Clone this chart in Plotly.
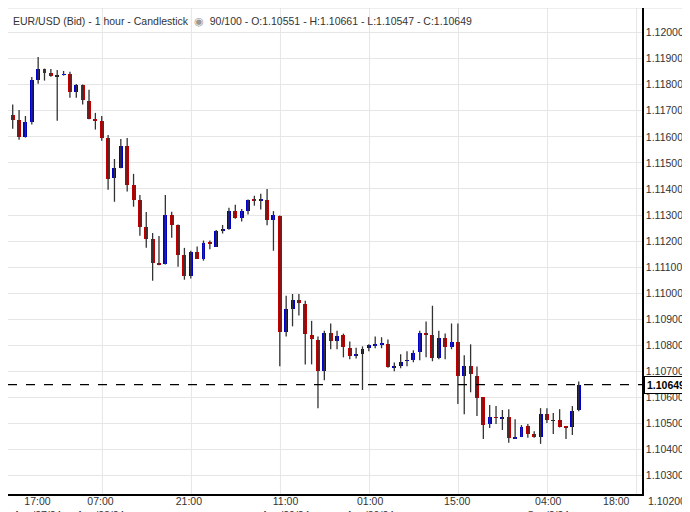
import plotly.graph_objects as go

opens = [1.11684,1.11665,1.11599,1.11657,1.11818,1.11860,1.11845,1.11832,1.11839,1.11841,
         1.11773,1.11799,1.11738,1.11670,1.11661,1.11597,1.11443,1.11482,1.11565,1.11415,
         1.11358,1.11254,1.11208,1.11115,1.11112,1.11300,1.11262,1.11147,1.11068,1.11158,
         1.11133,1.11193,1.11179,1.11240,1.11248,1.11316,1.11290,1.11317,1.11358,1.11355,
         1.11358,1.11282,1.11296,1.10850,1.10940,1.10975,1.10959,1.10841,1.10822,1.10701,
         1.10848,1.10815,1.10841,1.10791,1.10758,1.10766,1.10789,1.10800,1.10805,1.10806,
         1.10716,1.10720,1.10740,1.10743,1.10773,1.10848,1.10841,1.10750,1.10829,1.10792,
         1.10814,1.10682,1.10719,1.10684,1.10600,1.10498,1.10525,1.10521,1.10527,1.10441,
         1.10448,1.10489,1.10459,1.10448,1.10535,1.10511,1.10512,1.10487,1.10487,1.10551]
highs = [1.11724,1.11703,1.11680,1.11830,1.11906,1.11862,1.11860,1.11857,1.11853,1.11850,
         1.11803,1.11801,1.11781,1.11692,1.11680,1.11607,1.11515,1.11592,1.11596,1.11458,
         1.11377,1.11312,1.11231,1.11220,1.11377,1.11313,1.11264,1.11174,1.11163,1.11179,
         1.11202,1.11202,1.11243,1.11262,1.11328,1.11340,1.11323,1.11360,1.11374,1.11382,
         1.11400,1.11315,1.11298,1.10990,1.10997,1.10997,1.10971,1.10894,1.10834,1.10856,
         1.10884,1.10856,1.10845,1.10815,1.10791,1.10796,1.10804,1.10834,1.10831,1.10822,
         1.10734,1.10766,1.10777,1.10781,1.10856,1.10892,1.10952,1.10856,1.10845,1.10884,
         1.10884,1.10762,1.10804,1.10719,1.10600,1.10571,1.10567,1.10552,1.10555,1.10516,
         1.10494,1.10498,1.10470,1.10559,1.10559,1.10540,1.10555,1.10487,1.10567,1.10661]
lows = [1.11631,1.11589,1.11597,1.11647,1.11804,1.11816,1.11831,1.11662,1.11835,1.11750,
        1.11750,1.11724,1.11668,1.11628,1.11585,1.11397,1.11351,1.11480,1.11390,1.11332,
        1.11221,1.11175,1.11048,1.11107,1.11110,1.11213,1.11102,1.11052,1.11057,1.11131,
        1.11125,1.11169,1.11177,1.11229,1.11244,1.11286,1.11275,1.11302,1.11336,1.11321,
        1.11261,1.11163,1.10720,1.10834,1.10873,1.10915,1.10727,1.10727,1.10559,1.10666,
        1.10785,1.10785,1.10754,1.10747,1.10750,1.10629,1.10777,1.10789,1.10789,1.10714,
        1.10701,1.10712,1.10720,1.10735,1.10743,1.10754,1.10739,1.10747,1.10747,1.10785,
        1.10575,1.10536,1.10620,1.10529,1.10441,1.10483,1.10498,1.10475,1.10426,1.10441,
        1.10448,1.10445,1.10445,1.10422,1.10502,1.10460,1.10485,1.10441,1.10456,1.10547]
closes = [1.11666,1.11599,1.11657,1.11818,1.11860,1.11846,1.11835,1.11832,1.11841,1.11773,
          1.11799,1.11743,1.11670,1.11662,1.11597,1.11440,1.11481,1.11565,1.11417,1.11359,
          1.11256,1.11210,1.11117,1.11112,1.11300,1.11263,1.11148,1.11068,1.11160,1.11133,
          1.11193,1.11190,1.11239,1.11247,1.11316,1.11289,1.11316,1.11358,1.11355,1.11358,
          1.11282,1.11299,1.10850,1.10940,1.10975,1.10961,1.10842,1.10823,1.10701,1.10848,
          1.10815,1.10837,1.10792,1.10758,1.10768,1.10787,1.10803,1.10803,1.10808,1.10716,
          1.10719,1.10738,1.10743,1.10772,1.10848,1.10842,1.10750,1.10829,1.10792,1.10814,
          1.10682,1.10719,1.10689,1.10597,1.10494,1.10524,1.10522,1.10527,1.10445,1.10447,
          1.10485,1.10460,1.10448,1.10535,1.10513,1.10511,1.10487,1.10484,1.10550,1.10649]

tick_pos = [3.9, 13.8, 27.7, 42.9, 56.2, 69.9, 84.2, 94.9]
tick_text = ["17:00<br>Aug/27/24", "07:00<br>Aug/28/24", "21:00", "11:00<br>Aug/29/24",
             "01:00<br>Aug/30/24", "15:00", "04:00<br>Sep/2/24", "18:00"]
grid_pos = [14.1, 28.1, 42.1, 56.1, 70.1, 84.1, 98.1]
y_ticks = [1.103 + 0.001 * k for k in range(18)]
last_price = 1.10649

n = len(opens)
xs = list(range(n))
RED, BLUE, DOJI = "#c00000", "#0000c8", "#222222"

wx, wy = [], []
for i in xs:
    wx += [i, i, None]
    wy += [lows[i], highs[i], None]

base, hgt, cols = [], [], []
for o, c in zip(opens, closes):
    base.append(min(o, c))
    hgt.append(max(abs(c - o), 0.000022))
    cols.append(BLUE if c > o else (RED if c < o else DOJI))

fig = go.Figure()
fig.add_trace(go.Scatter(x=wx, y=wy, mode="lines", line=dict(color="#333333", width=1.3),
                         hoverinfo="skip", showlegend=False))
fig.add_trace(go.Bar(x=xs, y=hgt, base=base, marker=dict(color=cols, line=dict(width=0)),
                     width=0.62, showlegend=False))

shapes = [dict(type="line", xref="x", yref="paper", x0=g, x1=g, y0=0, y1=1,
               line=dict(color="#e6e6e6", width=1), layer="below") for g in grid_pos]
shapes.append(dict(type="line", xref="paper", yref="y", x0=0, x1=1, y0=last_price, y1=last_price,
                   line=dict(color="black", width=1.2, dash="dash")))
shapes.append(dict(type="rect", xref="paper", yref="paper", x0=-0.001, x1=1.087, y0=-0.052, y1=1.0,
                   line=dict(color="#dddddd", width=1), layer="below"))
fig.update_layout(
    width=690, height=512, margin=dict(l=0, r=56, t=0, b=26, autoexpand=False),
    paper_bgcolor="white", plot_bgcolor="white", bargap=0,
    font=dict(family="Liberation Sans, Arial", size=10.5, color="#333333"),
    shapes=shapes,
    xaxis=dict(range=[-0.74, 98.95], tickvals=tick_pos, ticktext=tick_text, showgrid=False,
               zeroline=False, showline=True, linecolor="black", linewidth=1.5, ticks="",
               tickfont=dict(size=10.5), automargin=False, ticklabelstandoff=-3),
    yaxis=dict(range=[1.102296, 1.120945], side="right", tickvals=y_ticks, tickformat=".5f",
               showgrid=True, gridcolor="#e6e6e6", zeroline=False, showline=True,
               linecolor="black", linewidth=1.5, ticks="", tickfont=dict(size=10.5),
               automargin=False),
    annotations=[
        dict(text="EUR/USD (Bid) - 1 hour - Candlestick  <span style='color:#999'>◉</span>  90/100 - O:1.10551 - H:1.10661 - L:1.10547 - C:1.10649",
             xref="paper", yref="paper", x=0.005, y=0.973, xanchor="left", yanchor="middle",
             showarrow=False, font=dict(size=10.5, color="#333333")),
        dict(text="<b>1.10649</b>", xref="paper", yref="y", x=1, y=last_price, xanchor="left",
             xshift=2, showarrow=False, bgcolor="white", bordercolor="black", borderwidth=1,
             borderpad=2, font=dict(size=10.5, color="black")),
        dict(text="1.10200", xref="paper", yref="paper", x=1, y=0, xanchor="left", yanchor="top",
             xshift=4, yshift=1, showarrow=False, font=dict(size=10.5, color="#333333")),
    ],
)
fig.write_html("out.html")
